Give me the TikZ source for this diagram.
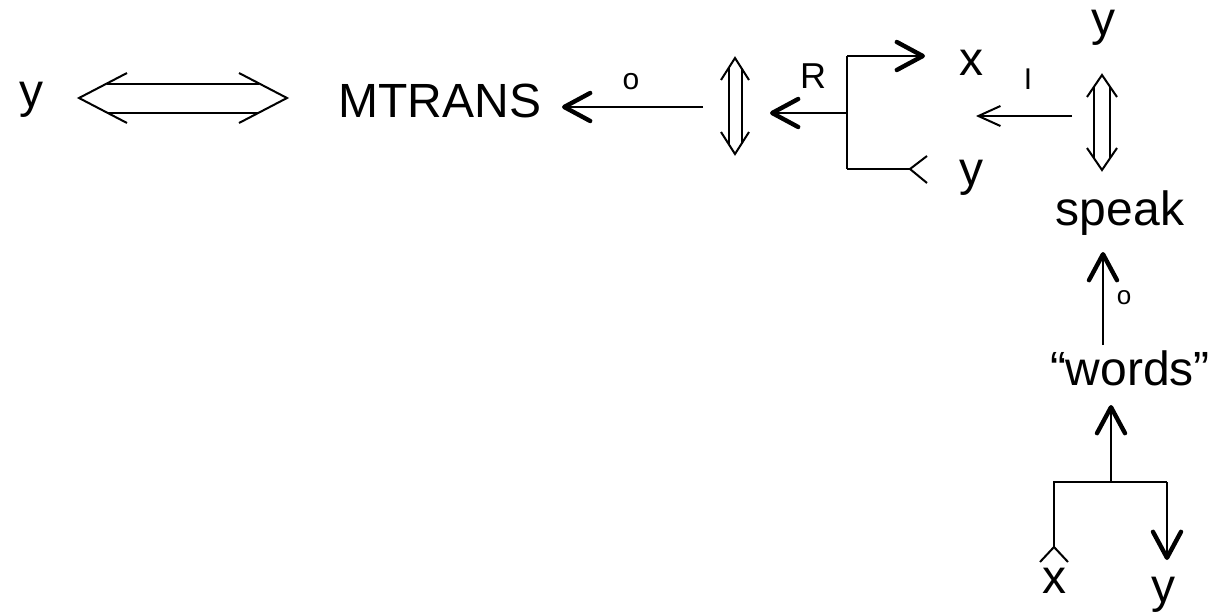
\documentclass[tikz,border=0pt]{standalone}
\usepackage{fontspec}
\setmainfont{Liberation Sans}
\usetikzlibrary{arrows.meta,positioning,calc}

\begin{document}
\begin{tikzpicture}[
  x=0.5pt,y=-0.5pt,
  word/.style={inner sep=0pt,anchor=base,font=\fontsize{24}{28}\selectfont},
  tag/.style={inner sep=0pt,font=\fontsize{18}{20}\selectfont},
  wire/.style={line width=1pt},
  arrow/.style={wire,-{Straight Barb[length=13pt,width=14pt,line width=2.2pt,round]}},
  openarrow/.style={wire,-{Straight Barb[length=11pt,width=10pt,line width=1pt]}}
]
\useasboundingbox (0,0) rectangle (1223,616);

%% Words
\node[word] (yleft)  at (31,107)   {y};
\node[word] (mtrans) at (440,117)  {MTRANS};
\node[word] (xtop)   at (971,75)   {x};
\node[word] (ymid)   at (971,185)  {y};
\node[word] (ytop)   at (1103,35)  {y};
\node[word] (speak)  at (1120,225) {speak};
\node[word] (words)  at (1130,385) {“words”};
\node[word] (xbot)   at (1054,593) {x};
\node[word] (ybot)   at (1163,602) {y};

%% Small tags
\node[tag] (rtag) at (813,76) {R};
\node[tag,font=\fontsize{15}{16}\selectfont] (itag) at (1028,79) {I};
\node[tag,font=\fontsize{15}{16}\selectfont] (otag) at (631,82) {o};
\node[tag,font=\fontsize{13}{14}\selectfont] (otag2) at (1124,298) {o};

%% Double arrow y <=> MTRANS
\coordinate (dl) at (79,98);
\coordinate (dr) at (287,98);
\draw[wire] ($(dl)+(48,-25)$) -- (dl) -- ($(dl)+(48,25)$);
\draw[wire] ($(dr)+(-48,-25)$) -- (dr) -- ($(dr)+(-48,25)$);
\draw[wire] ($(dl)+(28,-14.5)$) -- ($(dr)+(-28,-14.5)$);
\draw[wire] ($(dl)+(28,14.5)$) -- ($(dr)+(-28,14.5)$);

%% Vertical double arrows
\coordinate (va) at (735,58);
\coordinate (vb) at (735,154);
\draw[wire] ($(va)+(-14,22)$) -- (va) -- ($(va)+(14,22)$);
\draw[wire] ($(vb)+(-14,-22)$) -- (vb) -- ($(vb)+(14,-22)$);
\draw[wire] ($(va)+(-6.5,10)$) -- ($(vb)+(-6.5,-10)$);
\draw[wire] ($(va)+(6.5,10)$) -- ($(vb)+(6.5,-10)$);

\coordinate (wa) at (1102,75);
\coordinate (wb) at (1102,170);
\draw[wire] ($(wa)+(-15,22)$) -- (wa) -- ($(wa)+(15,22)$);
\draw[wire] ($(wb)+(-15,-22)$) -- (wb) -- ($(wb)+(15,-22)$);
\draw[wire] ($(wa)+(-8,12)$) -- ($(wb)+(-8,-12)$);
\draw[wire] ($(wa)+(8,12)$) -- ($(wb)+(8,-12)$);

%% Arrows along the top row
\coordinate (mstart) at (703,107);
\coordinate (mend)   at (562,107);
\draw[arrow] (mstart) -- (mend);

\coordinate (fork)  at (847,113);
\coordinate (ftop)  at (847,56);
\coordinate (fbot)  at (847,169);
\coordinate (rend)  at (770,113);
\coordinate (xend)  at (925,56);
\coordinate (yend)  at (910,169);
\draw[arrow] (fork) -- (rend);
\draw[wire] (ftop) -- (fbot);
\draw[arrow] (ftop) -- (xend);
\draw[wire] (fbot) -- (yend);
\draw[wire] ($(yend)+(17,-13)$) -- (yend) -- ($(yend)+(17,14)$);

\coordinate (istart) at (1072,116);
\coordinate (iend)   at (976,116);
\draw[openarrow] (istart) -- (iend);

%% Column under speak
\coordinate (sstart) at (1103,345);
\coordinate (send)   at (1103,252);
\draw[arrow] (sstart) -- (send);

\coordinate (bar)   at (1111,482);
\coordinate (wend)  at (1111,405);
\coordinate (barl)  at (1054,482);
\coordinate (barr)  at (1167,482);
\coordinate (xcar)  at (1054,547);
\coordinate (ytip)  at (1167,560);
\draw[arrow] (bar) -- (wend);
\draw[wire] (xcar) -- (barl) -- (barr);
\draw[arrow] (barr) -- (ytip);
\draw[wire] ($(xcar)+(-14,15)$) -- (xcar) -- ($(xcar)+(14,15)$);

\end{tikzpicture}
\end{document}
